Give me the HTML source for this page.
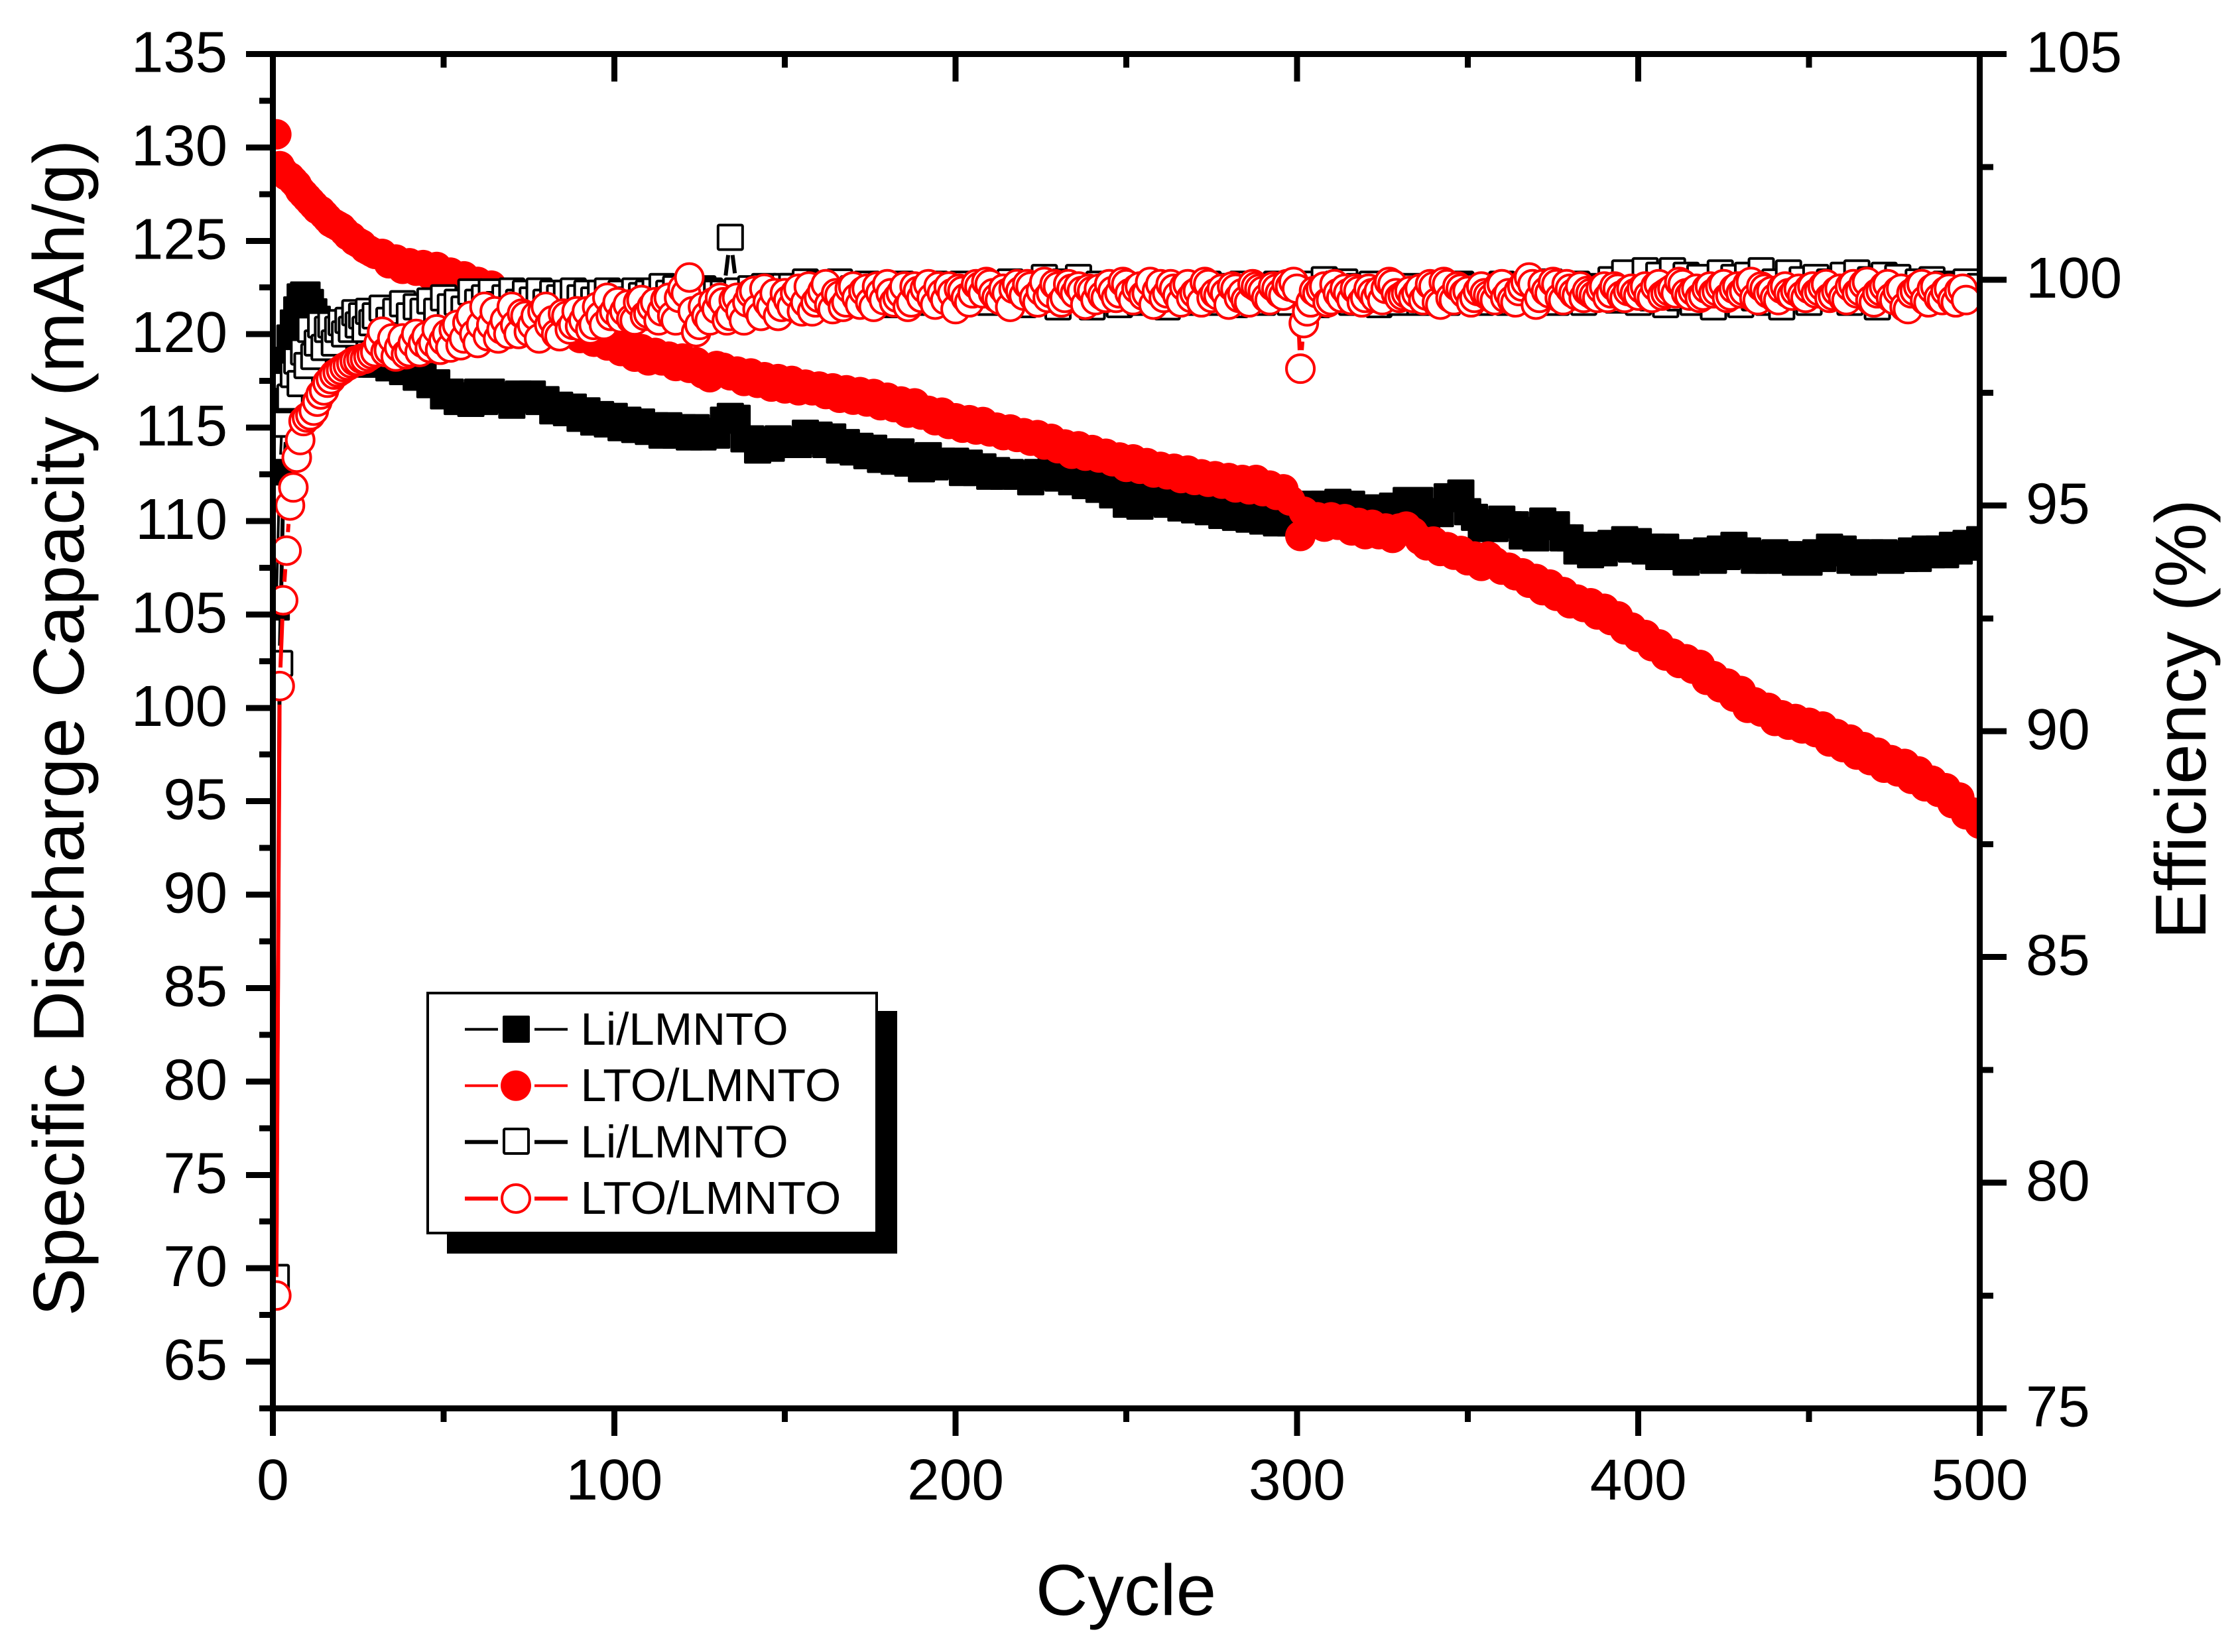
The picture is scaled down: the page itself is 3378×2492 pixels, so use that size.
<!DOCTYPE html>
<html lang="en">
<head>
<meta charset="utf-8">
<title>Specific Discharge Capacity and Efficiency vs Cycle</title>
<style>
html,body{margin:0;padding:0;background:#fff;}
svg{display:block;}
text{font-family:"Liberation Sans",Arial,sans-serif;fill:#000;}
</style>
</head>
<body>
<svg id="chart" xmlns="http://www.w3.org/2000/svg" width="3378" height="2492" viewBox="0 0 3378 2492">
  <defs><clipPath id="plot-clip"><rect x="411.5" y="0" width="2574" height="2124.5"/></clipPath></defs>
  <rect x="0" y="0" width="3378" height="2492" fill="#fff"/>
  <g id="series-layer" clip-path="url(#plot-clip)"></g>
  <g id="axis-layer" shape-rendering="crispEdges"></g>
  <g id="label-layer"></g>
  <text font-size="109" text-anchor="middle" transform="translate(126,1098) rotate(-90)">Specific Discharge Capacity (mAh/g)</text>
  <text font-size="109" text-anchor="middle" transform="translate(3326,1085) rotate(-90)">Efficiency (%)</text>
  <text font-size="109" text-anchor="middle" x="1698" y="2436">Cycle</text>
  <g>
    <rect x="674" y="1525" width="679" height="366" fill="#000"/>
    <rect x="645" y="1498" width="677" height="362" fill="#fff" stroke="#000" stroke-width="4"/>
    <g>
      <rect x="701" y="1550.7" width="50" height="4" fill="#000"/><rect x="806" y="1550.7" width="50" height="4" fill="#000"/>
      <rect x="758" y="1532" width="41" height="41" rx="2" fill="#000"/>
      <text x="875.5" y="1576" font-size="69">Li/LMNTO</text>
    </g>
    <g>
      <rect x="701" y="1635.7" width="50" height="4" fill="#f00"/><rect x="806" y="1635.7" width="50" height="4" fill="#f00"/>
      <circle cx="778" cy="1637.7" r="23" fill="#f00"/>
      <text x="875.5" y="1661" font-size="70">LTO/LMNTO</text>
    </g>
    <g>
      <rect x="701" y="1719.7" width="50" height="6" fill="#000"/><rect x="806" y="1719.7" width="50" height="6" fill="#000"/>
      <rect x="760" y="1703" width="37" height="37" rx="2" fill="#fff" stroke="#000" stroke-width="4"/>
      <text x="875.5" y="1746" font-size="69">Li/LMNTO</text>
    </g>
    <g>
      <rect x="701" y="1805" width="50" height="6" fill="#f00"/><rect x="806" y="1805" width="50" height="6" fill="#f00"/>
      <circle cx="778" cy="1808" r="21" fill="#fff" stroke="#f00" stroke-width="4"/>
      <text x="875.5" y="1831" font-size="70">LTO/LMNTO</text>
    </g>
  </g>
</svg>
<script>
var cycles = [1,2,3,4,5,6,7,8,9,10,11,12,13,14,15,16,17,18,19,20,21,22,23,24,25,26,27,28,29,30,
32,34,36,38,40,42,44,46,48,50,52,54,56,58,60,62,64,66,68,70,72,74,76,78,80,82,84,86,88,90,
92,94,96,98,100,102,104,106,108,110,112,114,116,118,120,122,124,126,128,130,132,134,136,138,140,142,144,146,148,150,
152,154,156,158,160,162,164,166,168,170,172,174,176,178,180,182,184,186,188,190,192,194,196,198,200,202,204,206,208,210,
212,214,216,218,220,222,224,226,228,230,232,234,236,238,240,242,244,246,248,250,252,254,256,258,260,262,264,266,268,270,
272,274,276,278,280,282,284,286,288,290,292,294,296,298,301,302,304,306,308,310,312,314,316,318,320,322,324,326,328,330,
332,334,336,338,340,342,344,346,348,350,352,354,356,358,360,362,364,366,368,370,372,374,376,378,380,382,384,386,388,390,
392,394,396,398,400,402,404,406,408,410,412,414,416,418,420,422,424,426,428,430,432,434,436,438,440,442,444,446,448,450,
452,454,456,458,460,462,464,466,468,470,472,474,476,478,480,482,484,486,488,490,492,494,496,498,500];

var liCapacity = [105.4,112.6,116.4,118.6,119.8,120.6,121.3,122.0,122.1,122.1,121.7,121.2,120.8,120.4,120.0,119.7,119.4,119.2,119.0,118.9,118.8,118.7,118.7,118.6,118.6,118.5,118.5,118.4,118.4,118.4,
118.5,118.2,118.4,118.0,118.2,117.7,117.9,117.3,117.4,116.7,116.9,116.4,116.7,116.3,116.9,116.4,116.9,116.5,116.7,116.2,
116.8,116.5,116.8,116.4,116.5,115.9,116.2,115.8,116.1,115.5,115.9,115.3,115.7,115.2,115.6,115.0,115.4,114.9,115.3,114.8,
115.1,114.6,115.1,114.6,115.0,114.5,115.0,114.5,114.8,114.6,115.4,115.6,115.5,114.4,114.4,113.8,114.3,113.9,114.4,114.1,
114.3,114.1,114.7,114.3,114.6,114.1,114.5,113.8,114.2,113.7,114.0,113.5,113.9,113.3,113.7,113.2,113.7,113.1,113.4,112.8,
113.5,112.9,113.2,113.0,113.2,112.6,113.1,112.6,112.9,112.4,112.7,112.4,112.6,112.4,112.5,112.1,112.6,112.4,112.7,112.3,
112.6,112.1,112.6,111.9,112.2,111.7,111.9,111.4,111.6,110.9,111.4,110.8,111.2,111.0,111.3,110.9,111.1,110.7,111.0,110.6,
110.9,110.5,110.7,110.3,110.6,110.2,110.6,110.1,110.4,110.0,110.4,109.9,110.3,109.9,110.4,110.4,110.9,110.4,110.9,110.6,
111.0,110.5,110.9,110.4,110.7,110.3,110.7,110.4,110.8,110.5,111.1,110.8,111.1,110.3,110.5,110.4,111.3,111.2,111.5,110.5,
110.2,109.6,109.9,109.6,110.1,109.8,109.8,109.2,109.5,109.1,110.0,109.7,109.8,109.1,109.1,108.4,108.7,108.2,108.7,108.3,
108.8,108.6,109.0,108.5,108.9,108.4,108.6,108.1,108.6,108.1,108.3,107.8,108.3,108.1,108.4,107.9,108.5,108.1,108.7,108.2,
108.4,107.9,108.2,107.9,108.3,107.9,108.2,107.8,108.2,107.8,108.3,108.0,108.6,108.3,108.5,107.9,108.3,107.8,108.3,108.0,
108.3,107.9,108.2,108.0,108.4,108.0,108.5,108.2,108.5,108.2,108.7,108.4,108.8,108.6,109.0];

var ltoCapacity = [130.7,129.0,128.7,128.5,128.4,128.2,128.0,127.7,127.5,127.3,127.1,126.9,126.7,126.6,126.4,126.2,126.0,125.9,125.8,125.7,125.5,125.3,125.2,125.0,124.9,124.8,124.6,124.5,124.4,124.3,
124.3,123.8,124.0,123.5,123.8,123.4,123.7,123.2,123.6,123.1,123.3,122.8,123.1,122.5,122.8,122.3,122.6,122.0,122.2,121.6,
121.8,121.3,121.5,120.9,121.1,120.6,120.8,120.2,120.4,119.8,120.1,119.6,119.9,119.4,119.7,119.1,119.4,118.8,119.2,118.6,
119.0,118.6,118.8,118.3,118.7,118.2,118.5,117.9,117.7,118.3,118.2,117.8,118.0,117.5,117.9,117.4,117.7,117.2,117.6,117.1,
117.5,117.0,117.3,117.0,117.2,116.8,117.1,116.6,117.0,116.5,116.9,116.4,116.8,116.2,116.6,116.1,116.4,115.8,116.3,115.7,
115.9,115.4,115.8,115.2,115.5,115.0,115.4,114.9,115.3,114.8,115.0,114.6,114.9,114.5,114.7,114.3,114.6,114.1,114.4,113.9,
114.1,113.6,114.0,113.5,113.8,113.4,113.6,113.2,113.4,112.9,113.3,112.8,113.1,112.6,112.9,112.5,112.8,112.3,112.7,112.2,
112.5,112.1,112.4,112.0,112.3,111.8,112.2,111.7,112.2,111.6,111.9,111.4,111.7,111.1,109.2,110.5,109.9,110.2,109.7,110.2,
109.8,110.1,109.5,109.9,109.3,109.8,109.3,109.6,109.1,109.6,109.7,109.4,109.0,108.7,108.9,108.4,108.6,108.2,108.4,107.9,
108.1,107.6,108.1,107.8,107.4,107.5,107.1,107.2,106.7,106.9,106.3,106.6,106.0,106.2,105.6,105.8,105.4,105.6,105.0,105.3,
104.7,104.9,104.2,104.3,103.8,103.9,103.3,103.4,102.8,102.9,102.4,102.6,102.1,102.3,101.5,101.7,101.1,101.3,100.6,100.9,
100.0,100.3,99.8,100.0,99.3,99.6,99.1,99.4,98.9,99.2,98.7,99.0,98.2,98.6,97.9,98.3,97.5,97.9,97.2,97.6,
96.8,97.2,96.6,97.0,96.2,96.6,95.8,96.1,95.5,95.7,94.9,95.2,94.3,94.4,93.8];

var liEfficiency = [77.9,91.5,95.2,96.8,97.4,97.9,98.2,97.7,98.4,98.1,98.9,98.3,98.6,99.0,98.5,98.9,99.0,98.6,98.9,99.05,98.8,99.1,98.9,99.27,99.0,99.2,98.9,99.3,99.05,99.2,
99.37,99.1,99.3,99.47,99.2,99.4,99.3,99.53,99.3,99.6,99.4,99.5,99.35,99.73,99.5,99.6,99.73,99.45,99.6,99.75,
99.5,99.7,99.55,99.75,99.5,99.7,99.6,99.7,99.75,99.6,99.7,99.55,99.7,99.75,99.6,99.7,99.55,99.75,99.65,99.7,
99.75,99.85,99.7,99.8,99.65,99.85,99.7,99.8,99.75,99.7,99.7,100.94,99.75,99.6,99.8,99.7,99.85,99.75,99.7,99.85,
99.85,99.7,99.95,99.75,99.9,99.65,99.85,99.95,99.7,99.8,99.75,99.9,99.7,99.85,99.8,99.45,99.9,99.75,99.85,99.5,
99.8,99.9,99.7,99.85,99.45,99.9,99.7,99.8,99.9,99.5,99.85,99.7,99.95,99.8,99.45,99.9,99.75,100.05,99.8,99.4,
99.95,99.8,100.05,99.7,99.4,99.9,99.75,99.85,99.45,99.8,99.85,99.5,99.7,99.9,99.8,99.4,99.85,99.75,99.8,99.5,
99.8,99.9,99.5,99.85,99.75,99.45,99.9,99.7,99.85,99.5,99.75,99.9,99.8,99.5,99.85,99.75,99.9,99.45,100.0,99.8,
99.9,99.95,99.5,99.85,99.75,99.9,99.45,99.8,99.85,99.5,99.75,99.85,99.5,99.8,99.75,99.85,99.5,99.8,99.9,99.75,
99.85,99.5,99.8,99.75,99.9,99.5,99.8,99.85,99.75,99.9,99.8,99.95,99.5,99.85,99.75,99.9,99.5,99.85,99.8,99.75,
100.0,99.55,100.15,99.8,99.5,100.2,99.6,100.1,99.45,100.2,99.6,100.1,99.5,100.05,99.8,99.4,100.15,99.7,100.05,99.45,
100.1,99.6,100.2,99.5,99.95,99.4,100.15,99.75,100.0,99.5,100.05,99.7,99.95,99.6,100.1,99.5,100.15,99.7,100.0,99.4,
100.1,99.6,100.05,99.8,99.6,99.95,99.75,100.0,99.7,99.9,99.85,99.7,99.95,99.75,99.85];

// One value per cycle: entry i belongs to cycle i + 1.
var ltoEfficiencyByCycle = [77.5,91.0,92.9,94.0,95.0,95.4,96.06,96.45,96.87,96.95,97.0,97.1,97.3,97.46,97.55,97.72,97.8,97.9,97.95,98.0,98.06,98.1,98.15,98.2,98.2,98.25,98.25,98.3,98.35,98.4,
98.6,98.85,98.4,98.44,98.7,98.3,98.5,98.7,98.35,98.4,98.6,98.8,98.4,98.6,98.75,98.49,98.6,98.9,98.45,98.65,
98.8,98.5,98.9,99.0,98.55,98.7,99.05,99.2,98.8,98.6,99.0,99.4,98.75,99.0,99.3,98.7,98.9,99.1,98.8,99.4,
99.0,98.8,99.25,99.2,98.85,99.0,99.2,98.7,99.3,99.4,99.0,99.1,98.8,98.75,99.25,99.2,98.9,99.0,99.3,98.97,
99.1,99.3,98.9,99.0,99.4,99.2,99.0,99.6,99.2,99.3,99.5,99.15,99.3,99.45,99.13,99.1,99.5,99.55,99.2,99.25,
99.4,99.5,99.1,99.3,99.55,99.6,99.2,99.1,99.6,99.8,99.7,100.05,99.3,98.84,99.0,99.4,99.2,99.1,99.5,99.35,
99.6,99.5,99.1,99.2,99.55,99.6,99.3,99.1,99.5,99.7,99.75,99.35,99.2,99.8,99.5,99.4,99.7,99.2,99.4,99.7,
99.55,99.4,99.7,99.8,99.3,99.5,99.85,99.3,99.5,99.6,99.75,99.9,99.45,99.35,99.7,99.65,99.4,99.5,99.8,99.85,
99.6,99.45,99.75,99.8,99.5,99.4,99.85,99.7,99.55,99.9,99.7,99.5,99.6,99.7,99.85,99.4,99.5,99.85,99.75,99.6,
99.8,99.9,99.6,99.45,99.85,99.7,99.55,99.85,99.7,99.35,99.8,99.75,99.6,99.5,99.7,99.9,99.85,99.7,99.95,99.9,
99.7,99.6,99.55,99.8,99.7,99.4,99.8,99.9,99.75,99.65,99.9,99.85,99.6,99.5,99.75,99.95,99.6,99.7,99.9,99.85,
99.5,99.6,99.9,99.8,99.7,99.85,99.75,99.45,99.8,99.75,99.55,99.8,99.65,99.6,99.9,99.75,99.6,99.7,99.95,99.9,
99.7,99.55,99.8,99.85,99.65,99.7,99.95,99.45,99.75,99.9,99.6,99.7,99.9,99.8,99.65,99.5,99.85,99.9,99.6,99.7,
99.75,99.5,99.95,99.9,99.6,99.7,99.65,99.8,99.7,99.45,99.85,99.8,99.6,99.7,99.55,99.5,99.9,99.85,99.8,99.75,
99.6,99.55,99.85,99.8,99.7,99.65,99.9,99.85,99.95,99.8,98.03,99.04,99.3,99.5,99.75,99.7,99.8,99.85,99.5,99.55,
99.9,99.7,99.6,99.8,99.7,99.55,99.8,99.75,99.5,99.6,99.8,99.7,99.6,99.75,99.55,99.8,99.95,99.9,99.7,99.6,
99.65,99.7,99.75,99.6,99.7,99.8,99.55,99.65,99.9,99.85,99.5,99.45,99.95,99.9,99.6,99.55,99.85,99.8,99.7,99.75,
99.5,99.6,99.75,99.85,99.7,99.65,99.6,99.55,99.85,99.9,99.6,99.7,99.55,99.5,99.75,99.85,99.95,100.05,99.9,99.45,
99.6,99.9,99.75,99.7,99.95,99.9,99.6,99.55,99.9,99.8,99.7,99.65,99.85,99.6,99.75,99.7,99.65,99.6,99.8,99.85,
99.6,99.7,99.85,99.8,99.65,99.6,99.75,99.8,99.7,99.65,99.8,99.85,99.65,99.6,99.85,99.9,99.65,99.7,99.75,99.8,
99.7,99.95,99.9,99.7,99.65,99.75,99.8,99.6,99.65,99.8,99.85,99.7,99.75,99.85,99.9,99.6,99.65,99.8,99.85,99.7,
99.75,99.9,99.95,99.6,99.55,99.85,99.8,99.7,99.75,99.6,99.55,99.8,99.85,99.7,99.65,99.75,99.8,99.65,99.6,99.8,
99.85,99.7,99.75,99.85,99.9,99.6,99.65,99.75,99.8,99.6,99.55,99.85,99.9,99.7,99.75,99.9,99.95,99.55,99.5,99.7,
99.75,99.85,99.9,99.6,99.55,99.75,99.8,99.4,99.35,99.7,99.75,99.85,99.9,99.55,99.5,99.8,99.85,99.6,99.55,99.75,
99.8,99.55,99.5,99.75,99.8,99.55];

var xTickLabels = [0,100,200,300,400,500];
var xMinorTicks = [50,150,250,350,450];
var leftTickLabels = [65,70,75,80,85,90,95,100,105,110,115,120,125,130,135];
var leftMinorTicks = [62.5,67.5,72.5,77.5,82.5,87.5,92.5,97.5,102.5,107.5,112.5,117.5,122.5,127.5,132.5];
var rightTickLabels = [75,80,85,90,95,100,105];
var rightMinorTicks = [77.5,82.5,87.5,92.5,97.5,102.5];

var SVGNS = 'http://www.w3.org/2000/svg';
var plotLeft = 411.5, plotRight = 2985.5, plotTop = 81.5, plotBottom = 2124.5;
function xScale(c){ return plotLeft + c / 500 * (plotRight - plotLeft); }
function yLeft(v){ return plotBottom - (v - 62.5) / 72.5 * (plotBottom - plotTop); }
function yRight(v){ return plotBottom - (v - 75) / 30 * (plotBottom - plotTop); }

function make(tag, attrs, parent){
  var el = document.createElementNS(SVGNS, tag);
  for (var k in attrs) el.setAttribute(k, attrs[k]);
  parent.appendChild(el);
  return el;
}

var seriesLayer = document.getElementById('series-layer');
var axisLayer = document.getElementById('axis-layer');
var labelLayer = document.getElementById('label-layer');

function drawSeries(name, cycleOf, values, yFn, color, lineWidth, kind, gap){
  var g = make('g', {}, seriesLayer);
  
  
  var d = '';
  for (var i = 0; i + 1 < values.length; i++){
    var x1 = xScale(cycleOf(i)), y1 = yFn(values[i]), x2 = xScale(cycleOf(i + 1)), y2 = yFn(values[i + 1]);
    var len = Math.sqrt((x2 - x1) * (x2 - x1) + (y2 - y1) * (y2 - y1));
    if (len > 2 * gap){
      var ux = (x2 - x1) / len, uy = (y2 - y1) / len;
      d += 'M' + (x1 + ux * gap).toFixed(1) + ' ' + (y1 + uy * gap).toFixed(1) + 'L' + (x2 - ux * gap).toFixed(1) + ' ' + (y2 - uy * gap).toFixed(1);
    }
  }
  var line = make('path', {d: d, fill: 'none', stroke: color, 'stroke-width': lineWidth}, g);
  
  
  for (var j = 0; j < values.length; j++){
    var cx = xScale(cycleOf(j)), cy = yFn(values[j]), m;
    if (kind === 'filled-square') m = make('rect', {x: cx - 20.5, y: cy - 20.5, width: 41, height: 41, rx: 2, fill: color}, g);
    if (kind === 'filled-circle') m = make('circle', {cx: cx, cy: cy, r: 23, fill: color}, g);
    if (kind === 'open-square') m = make('rect', {x: cx - 18.5, y: cy - 18.5, width: 37, height: 37, rx: 2, fill: '#fff', stroke: color, 'stroke-width': 4}, g);
    if (kind === 'open-circle') m = make('circle', {cx: cx, cy: cy, r: 21, fill: '#fff', stroke: color, 'stroke-width': 4}, g);
    
    
  }
}

function sharedCycle(i){ return cycles[i]; }
function indexCycle(i){ return i + 1; }

drawSeries('li-lmnto-capacity', sharedCycle, liCapacity, yLeft, '#000', 4, 'filled-square', 27);
drawSeries('lto-lmnto-capacity', sharedCycle, ltoCapacity, yLeft, '#f00', 4, 'filled-circle', 28);
drawSeries('li-lmnto-efficiency', sharedCycle, liEfficiency, yRight, '#000', 6, 'open-square', 27);
drawSeries('lto-lmnto-efficiency', indexCycle, ltoEfficiencyByCycle, yRight, '#f00', 6, 'open-circle', 28);

function tickRect(name, x, y, w, h){
  var r = make('rect', {x: x, y: y, width: w, height: h, fill: '#000'}, axisLayer);
  
  
}

tickRect('left-axis-line', 407, 77, 9, 2089);
tickRect('right-axis-line', 2981, 77, 9, 2089);
tickRect('top-axis-line', 407, 77, 2583, 9);
tickRect('bottom-axis-line', 407, 2120, 2583, 9);

xTickLabels.forEach(function(t){
  var x = xScale(t);
  tickRect('x-major-tick', x - 4.5, 2129, 9, 37);
  tickRect('top-major-tick', x - 4.5, 86, 9, 37);
  var lab = make('text', {x: x, y: 2262, 'font-size': 87.5, 'text-anchor': 'middle'}, labelLayer);
  
  
  lab.textContent = t;
});
xMinorTicks.forEach(function(t){
  var x = xScale(t);
  tickRect('x-minor-tick', x - 4.5, 2129, 9, 16);
  tickRect('top-minor-tick', x - 4.5, 86, 9, 16);
});
leftTickLabels.forEach(function(t){
  var y = yLeft(t);
  tickRect('left-major-tick', 371, y - 4.5, 36, 9);
  var lab = make('text', {x: 343, y: y + 27, 'font-size': 87, 'text-anchor': 'end'}, labelLayer);
  
  
  lab.textContent = t;
});
leftMinorTicks.forEach(function(t){
  tickRect('left-minor-tick', 391, yLeft(t) - 4.5, 16, 9);
});
rightTickLabels.forEach(function(t){
  var y = yRight(t);
  tickRect('right-major-tick', 2990, y - 4.5, 36, 9);
  var lab = make('text', {x: 3055, y: y + 27, 'font-size': 87, 'text-anchor': 'start'}, labelLayer);
  
  
  lab.textContent = t;
});
rightMinorTicks.forEach(function(t){
  tickRect('right-minor-tick', 2990, yRight(t) - 4.5, 16, 9);
});
</script>
</body>
</html>
